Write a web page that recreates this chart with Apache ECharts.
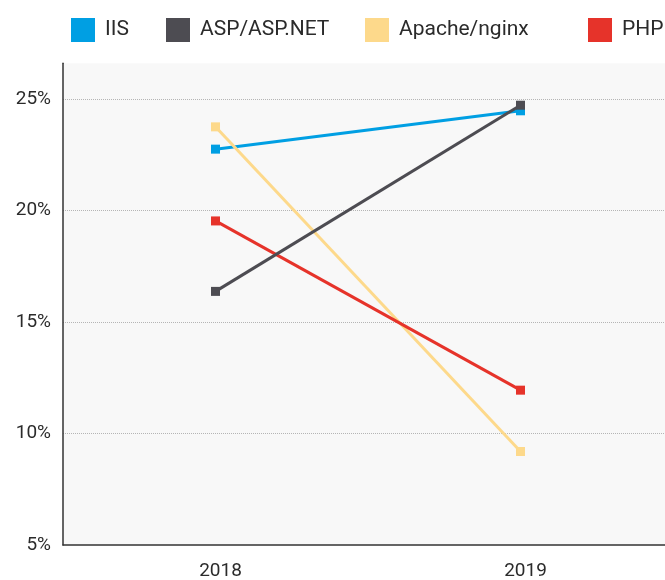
<!DOCTYPE html>
<html><head><meta charset="utf-8">
<script src="https://cdn.jsdelivr.net/npm/echarts@6/dist/echarts.min.js"></script>
<style>html,body{margin:0;padding:0;background:#fff}#c{width:665px;height:580px}</style>
</head><body><div id="c"></div>
<script>
var categories = ['2018', '2019'];
var seriesNames = ['IIS', 'ASP/ASP.NET', 'Apache/nginx', 'PHP'];
var iis = [22.75, 24.47];
var asp = [16.37, 24.72];
var apache = [23.75, 9.19];
var php = [19.53, 11.94];
var yTicks = [5, 10, 15, 20, 25];
var colors = ['#009fe3', '#4d4c52', '#fdd98b', '#e6332a'];
var values = [iis, asp, apache, php];
var legendLeft = [66, 161, 360, 583];

var chart = echarts.init(document.getElementById('c'));
var font = 'Roboto, "Noto Sans", sans-serif';
chart.setOption({
  animation: false,
  textStyle: {fontFamily: font},
  color: colors,
  legend: seriesNames.map(function (n, i) {
    return {
      top: 13, left: legendLeft[i],
      itemWidth: 24, itemHeight: 24, itemGap: 0,
      icon: 'rect',
      textStyle: {fontSize: 21, color: '#2b2b2b', fontFamily: font, padding: [0, 0, 0, 5]},
      data: [n]
    };
  }),
  grid: {left: 63, width: 610, top: 63.3, bottom: 35.1, show: true, backgroundColor: '#f8f8f8', borderWidth: 0,
    outerBoundsMode: 'none', containLabel: false},
  xAxis: {
    type: 'category', data: categories, boundaryGap: true,
    axisLine: {lineStyle: {color: '#333', width: 1.5}},
    axisTick: {inside: true, length: 11, lineStyle: {color: '#333', width: 1.5}},
    axisLabel: {fontSize: 19, color: '#2b2b2b', margin: 17, fontFamily: font, padding: [0, 0, 0, 10]}
  },
  yAxis: {
    type: 'value', min: yTicks[0], max: 26.6, interval: 5,
    axisLine: {show: true, lineStyle: {color: '#333', width: 1.5}},
    axisTick: {show: false},
    axisLabel: {fontSize: 19, color: '#2b2b2b', margin: 12, fontFamily: font, showMaxLabel: false,
      formatter: function (v) { return yTicks.indexOf(v) >= 0 ? v + '%' : ''; }},
    splitLine: {lineStyle: {type: 'dotted', width: 1, color: ['transparent', '#b5b5b5', '#b5b5b5', '#b5b5b5', '#b5b5b5', 'transparent']}}
  },
  series: seriesNames.map(function (n, i) {
    return {
      name: n, type: 'line', data: values[i],
      symbol: 'rect', symbolSize: 9,
      lineStyle: {width: 3, color: colors[i]},
      itemStyle: {color: colors[i]},
      z: 2 + (i === 1 ? 1 : 0)
    };
  })
});
</script></body></html>
